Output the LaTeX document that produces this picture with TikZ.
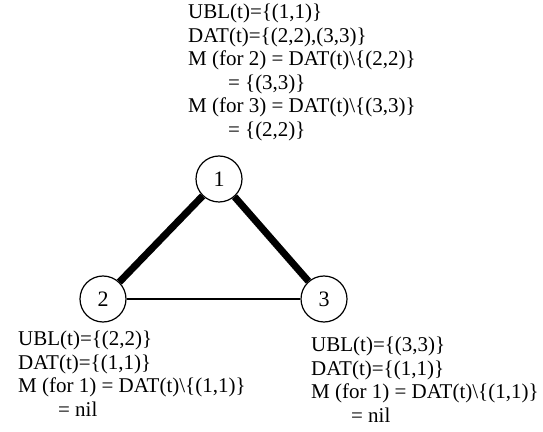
\documentclass[tikz,border=0pt]{standalone}
\usepackage{fontspec}
\setmainfont{Liberation Serif}
\usetikzlibrary{positioning}
\tikzset{
  vertex/.style   = {circle, draw, line width=1.2pt, minimum size=46pt, inner sep=0pt,
                     font=\fontsize{22}{23}\selectfont},
  heavy/.style    = {line width=7pt},
  light/.style    = {line width=1.2pt},
  info/.style     = {anchor=north west, align=left, inner sep=0pt,
                     font=\fontsize{21}{23.5}\selectfont},
}
\newcommand{\cont}{\hspace*{1.9em}}
\begin{document}
\begin{tikzpicture}[x=1pt,y=1pt]
  \useasboundingbox (0,0) rectangle (543,431);
  % vertices
  \node[vertex] (n1) at (219,252) {1};
  \node[vertex] (n2) at (103,132) {2};
  \node[vertex] (n3) at (324,132) {3};
  % edges
  \draw[heavy] (n1) -- (n2);
  \draw[heavy] (n1) -- (n3);
  \draw[light] (n2) -- (n3);
  % tables
  \node[info] (t1) at (188,427)
    {UBL(t)=\{(1,1)\}\\ DAT(t)=\{(2,2),(3,3)\}\\ M (for 2) = DAT(t)\textbackslash\{(2,2)\}\\
     \cont= \{(3,3)\}\\ M (for 3) = DAT(t)\textbackslash\{(3,3)\}\\ \cont= \{(2,2)\}};
  \node[info] (t2) at (18,100)
    {UBL(t)=\{(2,2)\}\\ DAT(t)=\{(1,1)\}\\ M (for 1) = DAT(t)\textbackslash\{(1,1)\}\\ \cont= nil};
  \node[info] (t3) at (311,94)
    {UBL(t)=\{(3,3)\}\\ DAT(t)=\{(1,1)\}\\ M (for 1) = DAT(t)\textbackslash\{(1,1)\}\\ \cont= nil};
\end{tikzpicture}
\end{document}
